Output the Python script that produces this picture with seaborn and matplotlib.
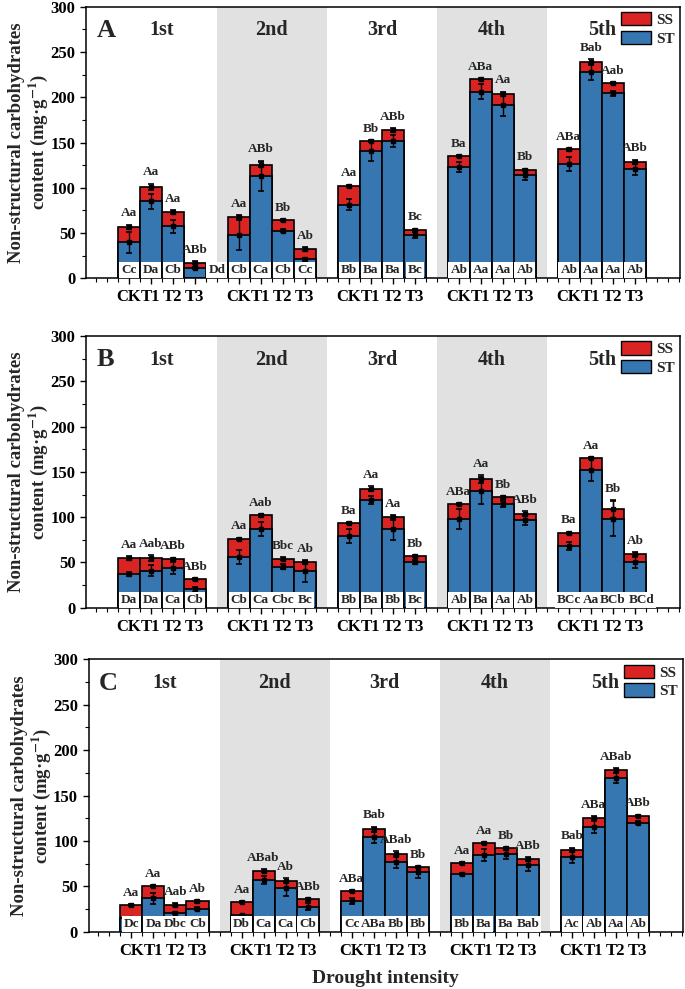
import numpy as np
import pandas as pd
import matplotlib
matplotlib.use("Agg")
import matplotlib.pyplot as plt
from matplotlib.patches import Patch
import seaborn as sns

treatments = ["CK", "T1", "T2", "T3"]
droughts = ["1st", "2nd", "3rd", "4th", "5th"]

# Panel A (order: 1st CK,T1,T2,T3, 2nd ..., 5th)
st_A = [39.8, 85.0, 57.4, 11.0, 47.8, 113.0, 52.6, 21.0, 81.4, 140.3,
        151.7, 47.5, 123.0, 206.2, 191.5, 114.1, 126.3, 227.5, 204.3, 120.4]
ss_A = [16.9, 15.8, 15.8, 6.3, 20.2, 12.5, 11.4, 11.4, 20.6, 11.0,
        12.1, 5.5, 11.7, 13.6, 12.1, 5.5, 16.2, 11.8, 11.1, 8.4]
st_err_A = [11.6, 8, 7, 1, 17, 17, 1.5, 1.5, 6, 10.4,
            7, 3.5, 6, 8, 12, 5, 8, 8, 3, 6]
ss_err_A = [2.5, 3.5, 2, 1.5, 2, 3, 1, 2, 1.5, 1,
            2, 2, 1, 1, 2.4, 1.5, 1.5, 2.5, 1, 2]
top_A = ["Aa", "Aa", "Aa", "ABb", "Aa", "ABb", "Bb", "Ab", "Aa", "Bb",
         "ABb", "Bc", "Ba", "ABa", "Aa", "Bb", "ABa", "Bab", "Aab", "ABb"]
base_A = ["Cc", "Da", "Cb", "Dd", "Cb", "Ca", "Cb", "Cc", "Bb", "Ba",
          "Ba", "Bc", "Ab", "Aa", "Aa", "Ab", "Ab", "Aa", "Aa", "Ab"]

# Panel B
st_B = [37.2, 40.9, 43.5, 20.3, 56.3, 86.9, 45.3, 40.2, 79.2, 118.9,
        86.5, 50.8, 98.3, 129.2, 114.5, 96.5, 68.1, 151.7, 98.5, 50.1]
ss_B = [17.7, 14.0, 10.6, 11.0, 19.6, 15.1, 8.8, 10.3, 14.0, 12.5,
        13.3, 6.3, 16.2, 12.9, 7.4, 7.3, 14.7, 13.3, 10.1, 9.2]
st_err_B = [2.5, 6, 6.5, 2.5, 7.5, 8, 3, 11.5, 8, 4.5,
            11.5, 2, 11, 15, 3, 5, 4.5, 12, 19, 6]
ss_err_B = [2, 3, 1, 1, 1.5, 1.5, 1.5, 2, 1, 2.5,
            2.5, 1, 1, 4, 1.5, 2.5, 1, 1, 10, 2]
top_B = ["Aa", "Aab", "ABb", "ABb", "Aa", "Aab", "Bbc", "Ab", "Ba", "Aa",
         "Aa", "Bb", "ABa", "Aa", "Bb", "ABb", "Ba", "Aa", "Bb", "Ab"]
base_B = ["Da", "Da", "Ca", "Cb", "Cb", "Ca", "Cbc", "Bc", "Bb", "Ba",
          "Bb", "Bc", "Ab", "Ba", "Aa", "Ab", "BCc", "Aa", "BCb", "BCd"]

# Panel C
st_C = [14.7, 36.8, 20.2, 25.4, 18.4, 57.0, 47.8, 27.5, 34.1, 104.0,
        77.1, 65.4, 63.2, 84.8, 85.9, 73.1, 81.9, 115.6, 168.9, 120.0]
ss_C = [14.4, 13.5, 9.6, 8.1, 14.3, 10.2, 8.4, 8.2, 10.4, 8.8,
        8.5, 5.9, 12.1, 12.5, 5.9, 6.9, 8.1, 10.0, 8.8, 7.4]
st_err_C = [0.5, 6, 1, 1.5, 0.5, 4.5, 8, 4, 3.5, 6,
            6.5, 6, 1, 6.5, 6, 6, 6.5, 6.5, 5.5, 1.5]
ss_err_C = [1, 1, 1.5, 1.5, 1, 1.5, 2.5, 1.5, 1, 3,
            3, 1, 1, 1, 1.5, 2, 2.5, 1.5, 2.5, 1.5]
top_C = ["Aa", "Aa", "Aab", "Ab", "Aa", "ABab", "Ab", "ABb", "ABa", "Bab",
         "ABab", "Bb", "Aa", "Aa", "Bb", "ABb", "Bab", "ABa", "ABab", "ABb"]
base_C = ["Dc", "Da", "Dbc", "Cb", "Db", "Ca", "Ca", "Cb", "Cc", "ABa",
          "Bb", "Bb", "Bb", "Ba", "Ba", "Bab", "Ac", "Ab", "Aa", "Ab"]

RED = "#DA2424"
BLUE = "#3677B2"
GREY = "#E1E1E1"

sns.set_theme(style="ticks")
plt.rcParams.update({
    "font.family": ["Liberation Serif", "DejaVu Serif"],
    "font.weight": "bold",
    "axes.labelweight": "bold",
    "mathtext.fontset": "stix",
    "axes.edgecolor": "black",
    "xtick.color": "black",
    "ytick.color": "black",
})

fig = plt.figure(figsize=(6.85, 9.89), dpi=100)
ax_A = fig.add_axes([0.1255, 0.7186, 0.8672, 0.2746])
ax_B = fig.add_axes([0.1255, 0.3855, 0.8672, 0.2747])
ax_C = fig.add_axes([0.1292, 0.0579, 0.8679, 0.2754])

pos = [5 * g + i + 1 for g in range(5) for i in range(4)]


def draw_panel(ax, letter, st, ss, st_err, ss_err, top, base, shifts):
    df = pd.DataFrame({"pos": pos, "ST": st, "SS": ss})
    df["total"] = df["ST"] + df["SS"]
    for g in (1, 3):
        ax.axvspan(5 * g, 5 * g + 5, color=GREY, lw=0, zorder=0)
    sns.barplot(data=df, x="pos", y="total", native_scale=True, width=1,
                color=RED, saturation=1, edgecolor="black", linewidth=1.2,
                errorbar=None, ax=ax, zorder=2)
    sns.barplot(data=df, x="pos", y="ST", native_scale=True, width=1,
                color=BLUE, saturation=1, edgecolor="black", linewidth=1.2,
                errorbar=None, ax=ax, zorder=2)
    ax.errorbar(df["pos"], df["total"], yerr=ss_err, fmt="s", ms=2.2,
                color="black", capsize=2.5, elinewidth=1, capthick=1.2, zorder=4)
    ax.errorbar(df["pos"], df["ST"], yerr=st_err, fmt="s", ms=2.2,
                color="black", capsize=2.5, elinewidth=1, capthick=1.2, zorder=4)

    upper = np.maximum(df["total"] + np.array(ss_err), df["ST"] + np.array(st_err))
    for k, p in enumerate(pos):
        ax.text(p, upper[k] + 6, top[k], ha="center", va="bottom",
                fontsize=9.5, zorder=5)
        ax.text(p + shifts.get(k, 0), 9, base[k], ha="center", va="center",
                fontsize=9.5, zorder=5,
                bbox=dict(boxstyle="square,pad=0.15", fc="white", ec="none"))

    for g, name in enumerate(droughts):
        ax.text(5 * g + 2.5, 274, name, ha="center", va="center", fontsize=14.5)
    ax.text(0.018, 0.912, letter, transform=ax.transAxes, ha="left",
            va="center", fontsize=19)

    ax.set_xlim(-0.95, 26.05)
    ax.set_ylim(0, 300)
    ax.set_xticks(pos)
    ax.set_xticklabels(treatments * 5, fontsize=12)
    minor = [v for v in np.arange(-0.5, 26.01, 0.5) if v not in pos]
    ax.set_xticks(minor, minor=True)
    ax.set_yticks(np.arange(0, 301, 50))
    ax.set_yticks(np.arange(25, 300, 50), minor=True)
    ax.tick_params(axis="y", labelsize=12, length=4, width=1)
    ax.tick_params(axis="x", length=4, width=1, pad=4)
    ax.tick_params(which="minor", length=3, width=0.8)
    for s in ax.spines.values():
        s.set_linewidth(1.1)
        s.set_color("black")
    ax.set_xlabel("")
    ax.set_ylabel("Non-structural carbohydrates\ncontent (mg·g$^{\\mathbf{-1}}$)",
                  fontsize=13.5, linespacing=1.1)
    ax.yaxis.set_label_coords(-0.06, 0.5)

    handles = [Patch(facecolor=RED, edgecolor="black", label="SS"),
               Patch(facecolor=BLUE, edgecolor="black", label="ST")]
    ax.legend(handles=handles, loc="upper right", bbox_to_anchor=(1.0, 1.0),
              frameon=False, fontsize=11, handlelength=2.0, handleheight=0.95,
              handletextpad=0.3, labelspacing=0.25, borderpad=0.25,
              borderaxespad=0.1)


draw_panel(ax_A, "A", st_A, ss_A, st_err_A, ss_err_A, top_A, base_A, {3: 1.0})
draw_panel(ax_B, "B", st_B, ss_B, st_err_B, ss_err_B, top_B, base_B, {19: 0.3})
draw_panel(ax_C, "C", st_C, ss_C, st_err_C, ss_err_C, top_C, base_C, {})
ax_C.set_xlabel("Drought intensity", fontsize=14, labelpad=8)

fig.savefig("out.png", dpi=100, facecolor="white")
